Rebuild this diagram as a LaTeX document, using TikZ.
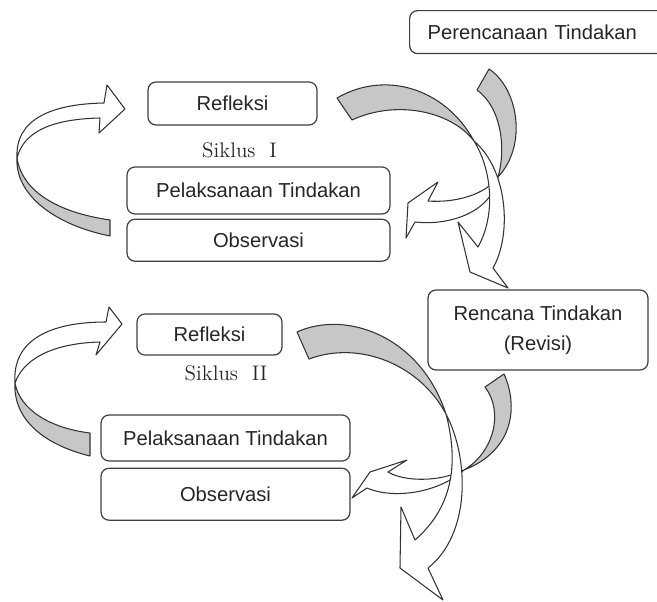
\documentclass[tikz,border=0pt]{standalone}
\usepackage{fontspec}
\setsansfont{Liberation Sans}
\usepackage{tikz}
\usetikzlibrary{positioning}

\begin{document}
\begin{tikzpicture}[x=0.02cm, y=-0.02cm, align=center,
    box/.style={draw=black!75, line width=0.7pt, rounded corners=0.16cm, fill=white,
        font=\sffamily\fontsize{11.5}{17}\selectfont, text=black!85},
    sikluslabel/.style={anchor=base, font=\fontsize{12}{14}\selectfont, text=black!85},
    bandback/.style={draw=black!80, line width=0.6pt, line join=round, fill=black!22},
    bandfront/.style={draw=black!80, line width=0.6pt, line join=round, fill=white}]
    \useasboundingbox (0,0) rectangle (657,602);

    % Siklus I
    \draw [bandback] (17,158) .. controls (15,195) and (55,225) .. (110,236) -- (110,220) .. controls (55,212) and (22,190) .. (17,158) -- cycle;
    \draw [bandfront] (17,158) .. controls (15,120) and (50,104) .. (104,103) -- (107,85) -- (125,109) -- (99,133) -- (100,118) .. controls (55,119) and (24,130) .. (17,158) -- cycle;

    \draw [bandback] (477,90) -- (489,69) .. controls (518,88) and (528,145) .. (498,177) .. controls (506,150) and (502,108) .. (477,90) -- cycle;
    \draw [bandfront] (498,177) .. controls (485,195) and (455,203) .. (428,201) -- (438,182) -- (408,203) -- (406,238) -- (415,222) .. controls (450,226) and (492,212) .. (498,177) -- cycle;

    \draw [bandback] (337,98) .. controls (385,70) and (445,88) .. (474,141) .. controls (450,110) and (395,100) .. (352,120) -- cycle;
    \draw [bandfront] (474,141) .. controls (492,170) and (496,215) .. (478,247) -- (458,222) -- (470,272) -- (508,288) -- (493,268) .. controls (512,235) and (508,170) .. (474,141) -- cycle;

    % Siklus II
    \draw [bandback] (15,383) .. controls (13,420) and (45,445) .. (90,456) -- (90,433) .. controls (50,428) and (20,410) .. (15,383) -- cycle;
    \draw [bandfront] (15,383) .. controls (12,340) and (50,322) .. (106,322) -- (109,307) -- (122,324) -- (96,355) -- (100,342) .. controls (60,343) and (25,355) .. (15,383) -- cycle;

    \draw [bandback] (485,387) -- (504,374) .. controls (518,405) and (515,450) .. (464,470) .. controls (494,452) and (504,412) .. (485,387) -- cycle;
    \draw [bandfront] (464,470) .. controls (440,482) and (405,482) .. (388,472) -- (407,460) -- (370,472) -- (352,498) -- (367,488) .. controls (395,500) and (440,492) .. (464,470) -- cycle;

    \draw [bandback] (297,332) .. controls (345,310) and (420,335) .. (446,414) .. controls (420,365) and (360,340) .. (309,359) -- cycle;
    \draw [bandfront] (446,414) .. controls (458,460) and (455,505) .. (415,540) -- (401,507) -- (400,568) -- (443,600) -- (428,568) .. controls (470,535) and (470,460) .. (446,414) -- cycle;

    \node [box, anchor=north west, minimum height=0.86cm, text width=4.52cm, inner xsep=0.36cm, align=left] (plan) at (409,10) {Perencanaan Tindakan};

    \node [box, minimum width=3.38cm, minimum height=0.86cm] (refl1) at (232.5,103.5) {Refleksi};
    \node [sikluslabel] (siklus1) at (239.5,157) {Siklus~~I};
    \node [box, minimum width=5.26cm, minimum height=0.94cm] (pel1) at (258.5,190.5) {Pelaksanaan Tindakan};
    \node [box, below=0.08cm of pel1, minimum width=5.26cm, minimum height=0.84cm] (obs1) {Observasi};

    \node [box, minimum width=4.4cm, minimum height=1.6cm] (revisi) at (538,330) {Rencana Tindakan\\(Revisi)};

    \node [box, minimum width=2.9cm, minimum height=0.82cm] (refl2) at (209.5,334.5) {Refleksi};
    \node [sikluslabel] (siklus2) at (226,380) {Siklus~~II};
    \node [box, minimum width=4.98cm, minimum height=0.92cm] (pel2) at (225.5,438) {Pelaksanaan Tindakan};
    \node [box, below=0.12cm of pel2, minimum width=4.98cm, minimum height=1.04cm] (obs2) {Observasi};

\end{tikzpicture}
\end{document}
